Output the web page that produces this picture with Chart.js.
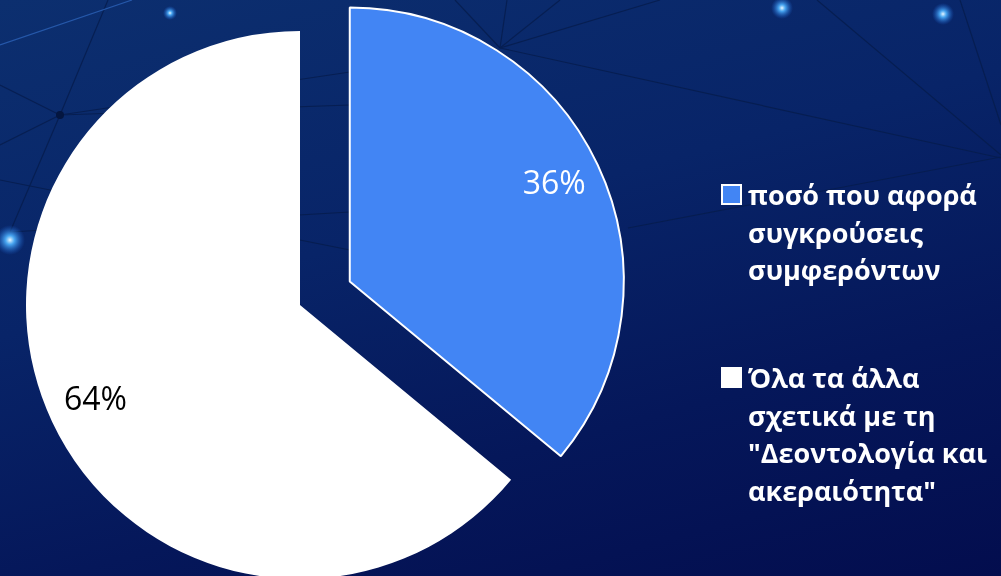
<!DOCTYPE html>
<html>
<head>
<meta charset="utf-8">
<script src="https://cdn.jsdelivr.net/npm/chart.js"></script>
<style>
  html, body { margin: 0; padding: 0; width: 1001px; height: 576px; overflow: hidden; }
  body {
    position: relative;
    background: linear-gradient(165deg, #0c2f6f 0%, #082468 40%, #05175a 70%, #030d4e 100%);
    font-family: 'Open Sans', 'Noto Sans', sans-serif;
  }
  #bg { position: absolute; left: 0; top: 0; }
  #wrap { position: absolute; left: 0; top: 0; width: 1001px; height: 576px; }
  #legend { position: absolute; left: 0; top: 0; width: 1001px; height: 576px; pointer-events: none; }
  .item { position: absolute; left: 721px; }
  .box { position: absolute; left: 0; width: 17px; height: 17px; border: 2px solid #fff; }
  .txt { position: absolute; left: 27px; white-space: nowrap; color: #fff; font-weight: 700; font-size: 27px; line-height: 37.5px; }
</style>
</head>
<body>
<svg id="bg" width="1001" height="576" xmlns="http://www.w3.org/2000/svg">
  <defs>
    <radialGradient id="glow">
      <stop offset="0" stop-color="#e8f6ff" stop-opacity="1"/>
      <stop offset="0.3" stop-color="#4fb3ff" stop-opacity="0.9"/>
      <stop offset="1" stop-color="#1a5fd0" stop-opacity="0"/>
    </radialGradient>
  </defs>
  <g stroke="#061c4c" stroke-width="1.2" fill="none" opacity="0.8">
    <line x1="60" y1="115" x2="108" y2="0"/>
    <line x1="60" y1="115" x2="0" y2="85"/>
    <line x1="60" y1="115" x2="0" y2="145"/>
    <line x1="60" y1="115" x2="10" y2="232"/>
    <line x1="60" y1="115" x2="350" y2="72"/>
    <line x1="60" y1="115" x2="350" y2="105"/>
    <line x1="10" y1="232" x2="350" y2="212"/>
    <line x1="0" y1="180" x2="350" y2="250"/>
    <line x1="500" y1="48" x2="455" y2="0"/>
    <line x1="500" y1="48" x2="507" y2="0"/>
    <line x1="500" y1="48" x2="560" y2="0"/>
    <line x1="500" y1="48" x2="660" y2="0"/>
    <line x1="500" y1="48" x2="1001" y2="158"/>
    <line x1="817" y1="0" x2="1001" y2="155"/>
    <line x1="960" y1="0" x2="1001" y2="125"/>
    <line x1="1001" y1="157" x2="628" y2="228"/>
  </g>
  <line x1="0" y1="45" x2="132" y2="0" stroke="#2c62b8" stroke-width="1.2" opacity="0.8"/>
  <circle cx="60" cy="115" r="4" fill="#041640"/>
  <circle cx="170" cy="13" r="7" fill="url(#glow)"/>
  <circle cx="10" cy="240" r="15" fill="url(#glow)"/>
  <circle cx="782" cy="8" r="11" fill="url(#glow)"/>
  <circle cx="943" cy="14" r="11" fill="url(#glow)"/>
</svg>
<div id="wrap"><canvas id="c" width="1001" height="576"></canvas></div>
<div id="legend"></div>
<script>
// ---- data ----
const categories = [
  ["ποσό που αφορά", "συγκρούσεις", "συμφερόντων"],
  ["Όλα τα άλλα", "σχετικά με τη", "\"Δεοντολογία και", "ακεραιότητα\""]
];
const values = [36, 64];
const sliceColors = ["#4285f4", "#ffffff"];
const sliceBorders = ["#ffffff", "#ffffff"];
const labelColors = ["#ffffff", "#000000"];
const explode = [55, 0];

// ---- plugins ----
const explodePlugin = {
  id: 'explodeSlices',
  afterDatasetUpdate(chart, args) {
    args.meta.data.forEach((arc, i) => {
      const d = explode[i] || 0;
      if (!d) return;
      const mid = (arc.startAngle + arc.endAngle) / 2;
      arc.x += Math.cos(mid) * d;
      arc.y += Math.sin(mid) * d;
    });
  }
};

const pctLabelPlugin = {
  id: 'pctLabels',
  afterDatasetsDraw(chart) {
    const ctx = chart.ctx;
    const meta = chart.getDatasetMeta(0);
    const total = values.reduce((a, b) => a + b, 0);
    ctx.save();
    ctx.font = '400 32px "Open Sans", sans-serif';
    ctx.textAlign = 'center';
    ctx.textBaseline = 'middle';
    meta.data.forEach((arc, i) => {
      const mid = (arc.startAngle + arc.endAngle) / 2;
      const r = arc.outerRadius * 0.825;
      ctx.fillStyle = labelColors[i];
      ctx.fillText(Math.round(values[i] / total * 100) + '%', arc.x + Math.cos(mid) * r, arc.y + Math.sin(mid) * r);
    });
    ctx.restore();
  }
};

const chart = new Chart(document.getElementById('c'), {
  type: 'pie',
  data: {
    labels: categories.map(c => c.join(' ')),
    datasets: [{
      data: values,
      backgroundColor: sliceColors,
      borderColor: sliceBorders,
      borderWidth: [2, 0],
      clip: false
    }]
  },
  options: {
    responsive: false,
    animation: false,
    radius: 274,
    layout: { padding: { left: 0, right: 401, top: 34, bottom: 0 } },
    plugins: { legend: { display: false }, tooltip: { enabled: false } }
  },
  plugins: [explodePlugin, pctLabelPlugin]
});

// ---- HTML legend ----
const legendTops = [176, 359];
const legend = document.getElementById('legend');
categories.forEach((lines, i) => {
  const item = document.createElement('div');
  item.className = 'item';
  item.style.top = legendTops[i] + 'px';
  const box = document.createElement('div');
  box.className = 'box';
  box.style.top = '8px';
  box.style.background = sliceColors[i];
  const txt = document.createElement('div');
  txt.className = 'txt';
  txt.style.top = '0px';
  txt.innerHTML = lines.map(l => l.replace(/&/g, '&amp;').replace(/</g, '&lt;')).join('<br>');
  item.appendChild(box);
  item.appendChild(txt);
  legend.appendChild(item);
});
</script>
</body>
</html>
